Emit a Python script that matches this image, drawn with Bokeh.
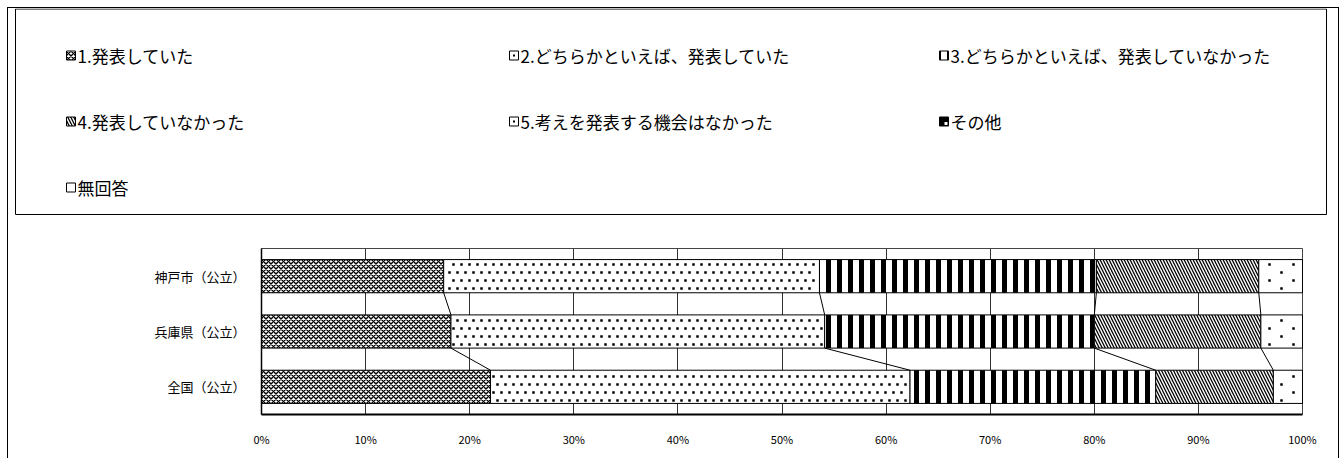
import numpy as np
from bokeh.plotting import figure
from bokeh.layouts import column
from bokeh.models import Range1d, FixedTicker
from bokeh.core.properties import value
from bokeh.embed import file_html
from bokeh.resources import INLINE

# ---------------- data ----------------
categories = ["神戸市（公立）", "兵庫県（公立）", "全国（公立）"]
s1 = [17.5, 18.2, 22.0]   # 1.発表していた
s2 = [36.1, 35.9, 40.3]   # 2.どちらかといえば、発表していた
s3 = [26.6, 25.9, 23.6]   # 3.どちらかといえば、発表していなかった
s4 = [15.6, 16.0, 11.3]   # 4.発表していなかった
s5 = [4.2, 4.0, 2.8]      # 5.考えを発表する機会はなかった
s6 = [0.0, 0.0, 0.0]      # その他
s7 = [0.0, 0.0, 0.0]      # 無回答
series_names = ["1.発表していた", "2.どちらかといえば、発表していた",
                "3.どちらかといえば、発表していなかった", "4.発表していなかった",
                "5.考えを発表する機会はなかった", "その他", "無回答"]
x_ticks = [0, 10, 20, 30, 40, 50, 60, 70, 80, 90, 100]
x_tick_labels = ["0%", "10%", "20%", "30%", "40%", "50%", "60%", "70%", "80%", "90%", "100%"]

series = [s1, s2, s3, s4, s5, s6, s7]

# ---------------- styles ----------------
FONT = "Noto Sans CJK JP"
# built-in hatches (None -> dotted fill drawn with small squares)
hatch_styles = [
    dict(hatch_pattern="diagonal_cross", hatch_scale=5, hatch_weight=1.4),
    None,
    dict(hatch_pattern="vertical_line", hatch_scale=11, hatch_weight=5),
    dict(hatch_pattern="left_diagonal_line", hatch_scale=6, hatch_weight=1.3),
    None,
    None,
    None,
]
# dot fill spacing in screen pixels: (dx, dy, row offset)
dot_styles = {1: (8, 8, 4), 4: (24, 8, 12)}

W = 1330
HA = 208
HB = 242
FRAME_W = 1041
FRAME_H = 166
BAR_H = 0.6

# ---------------- legend figure ----------------
pl = figure(width=W, height=HA, x_range=Range1d(0, W), y_range=Range1d(HA, 0),
            output_backend="svg", toolbar_location=None,
            x_axis_type=None, y_axis_type=None, min_border=0)
pl.outline_line_color = None
pl.xgrid.visible = False
pl.ygrid.visible = False
pl.background_fill_color = "white"
pl.border_fill_color = "white"

pl.quad(left=7, right=1318, top=0.5, bottom=206, fill_color=None,
        line_color="black", line_width=1)

col_x = [58, 501, 931]
row_y = [47, 113, 179]
ICON = 9
for i, name in enumerate(series_names):
    cx = col_x[i % 3]
    cy = row_y[i // 3]
    ix = cx + ICON / 2
    st = hatch_styles[i]
    if st is not None:
        pl.rect(x=[ix], y=[cy], width=ICON, height=ICON, fill_color="white",
                line_color="black", line_width=1, hatch_color="black", **st)
    elif i == 5:
        pl.rect(x=[ix], y=[cy], width=ICON, height=ICON, fill_color="black",
                line_color="black", line_width=1)
        pl.rect(x=[ix + 2], y=[cy + 2], width=3, height=3, fill_color="white",
                line_color=None)
    else:
        pl.rect(x=[ix], y=[cy], width=ICON, height=ICON, fill_color="white",
                line_color="black", line_width=1)
        if i in dot_styles:
            pl.rect(x=[ix], y=[cy], width=2, height=2, fill_color="black", line_color=None)
    pl.text(x=[cx + ICON + 2], y=[cy], text=[name], text_font=value(FONT),
            text_font_size="17px", text_baseline="middle", text_align="left",
            text_color="black")

# ---------------- chart figure ----------------
y_pos = [2, 1, 0]
y_lo, y_hi = -0.5, 2.5
p = figure(width=W, height=HB, x_range=Range1d(0, 100), y_range=Range1d(y_lo, y_hi),
           output_backend="svg", toolbar_location=None,
           min_border_left=253, min_border_right=W - 253 - FRAME_W, min_border_top=32,
           min_border_bottom=HB - 32 - FRAME_H)
p.background_fill_color = "white"
p.border_fill_color = "white"
p.outline_line_color = "#444444"
p.outline_line_width = 1

px_x = 100.0 / FRAME_W
px_y = (y_hi - y_lo) / FRAME_H


def dot_fill(lefts, rights, ys, dx, dy, off):
    """dot pattern positions, laid out on a screen-pixel lattice inside each bar"""
    out_x, out_y = [], []
    for L, R, yc in zip(lefts, rights, ys):
        x0, x1 = L / px_x, R / px_x
        top = (y_hi - (yc + BAR_H / 2)) / px_y
        bot = (y_hi - (yc - BAR_H / 2)) / px_y
        r0 = int(np.ceil((top + 2) / dy))
        r1 = int(np.floor((bot - 2) / dy))
        for r in range(r0, r1 + 1):
            yy = r * dy
            o = off if r % 2 else 0
            c0 = int(np.ceil((x0 + 2 - o) / dx))
            c1 = int(np.floor((x1 - 2 - o) / dx))
            for c in range(c0, c1 + 1):
                out_x.append((c * dx + o) * px_x)
                out_y.append(y_hi - yy * px_y)
    return out_x, out_y


cum_prev = [0.0, 0.0, 0.0]
bounds = []
for k, vals in enumerate(series):
    right = [a + b for a, b in zip(cum_prev, vals)]
    st = hatch_styles[k]
    if st is not None:
        p.hbar(y=y_pos, left=cum_prev, right=right, height=BAR_H,
               fill_color="white", line_color="black", line_width=1,
               hatch_color="black", **st)
    else:
        p.hbar(y=y_pos, left=cum_prev, right=right, height=BAR_H,
               fill_color="white", line_color="black", line_width=1)
        if k in dot_styles:
            dx, dy, off = dot_styles[k]
            xs, ys = dot_fill(cum_prev, right, y_pos, dx, dy, off)
            p.scatter(x=xs, y=ys, marker="square", size=2.5, fill_color="black",
                      line_color=None)
    bounds.append(right)
    cum_prev = right

# series lines connecting segment boundaries
for b in bounds[:4]:
    p.segment(x0=b[:-1], y0=[y - BAR_H / 2 for y in y_pos[:-1]],
              x1=b[1:], y1=[y + BAR_H / 2 for y in y_pos[1:]],
              line_color="black", line_width=1)

p.xaxis.ticker = FixedTicker(ticks=x_ticks)
p.xaxis.major_label_overrides = {t: l for t, l in zip(x_ticks, x_tick_labels)}
p.xaxis.major_tick_out = 0
p.xaxis.major_tick_in = 0
p.xaxis.minor_tick_out = 0
p.xaxis.minor_tick_in = 0
p.xaxis.axis_line_color = "black"
p.xaxis.axis_line_width = 2
p.xaxis.major_label_standoff = 16
p.xaxis.major_label_text_font = FONT
p.xaxis.major_label_text_font_size = "11px"
p.xaxis.major_label_text_color = "black"

p.yaxis.ticker = FixedTicker(ticks=y_pos)
p.yaxis.major_label_overrides = {y: c for y, c in zip(y_pos, categories)}
p.yaxis.major_tick_out = 0
p.yaxis.major_tick_in = 0
p.yaxis.minor_tick_out = 0
p.yaxis.minor_tick_in = 0
p.yaxis.axis_line_color = "black"
p.yaxis.axis_line_width = 1.5
p.yaxis.major_label_standoff = 16
p.yaxis.major_label_text_font = FONT
p.yaxis.major_label_text_font_size = "13px"
p.yaxis.major_label_text_color = "black"

p.xgrid.ticker = FixedTicker(ticks=x_ticks[1:-1])
p.xgrid.grid_line_color = "#333333"
p.xgrid.grid_line_width = 1
p.ygrid.visible = False

for f in (pl, p):
    try:
        f.frame_align = False
    except Exception:
        pass

layout = column(pl, p, margin=(7, 0, 0, 7),
                styles={"border-top": "1px solid black",
                        "border-left": "1px solid black",
                        "border-right": "1px solid black"})

open("out.html", "w").write(file_html(layout, INLINE))
